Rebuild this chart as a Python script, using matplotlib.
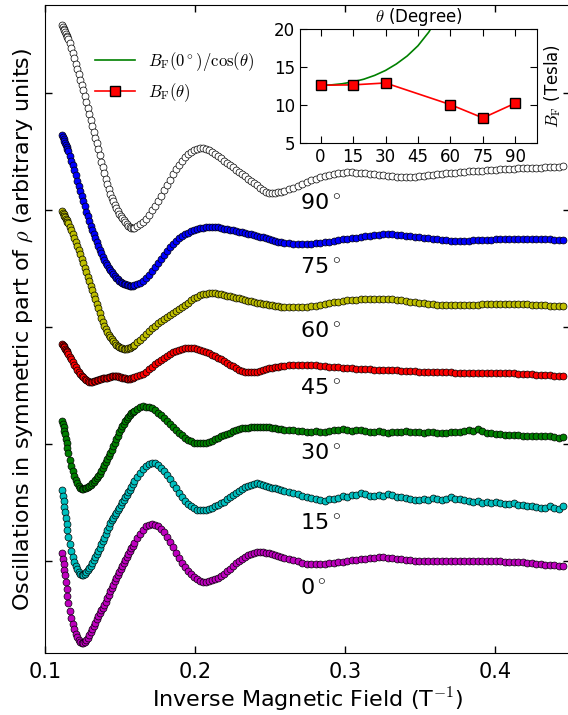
import numpy as np
import matplotlib
matplotlib.use('Agg')
import matplotlib.pyplot as plt

plt.rcParams['font.family'] = 'DejaVu Sans'
plt.rcParams['mathtext.fontset'] = 'cm'

# inverse field (1/T), shared by all traces
inv_field = np.array([
    0.1115, 0.112, 0.1125, 0.113, 0.1135, 0.114, 0.1145, 0.115, 0.1155, 0.1165,
    0.1175, 0.1185, 0.1195, 0.1205,
    0.1215, 0.1225, 0.1235, 0.1245, 0.1255, 0.1265, 0.1275, 0.1285, 0.1295, 0.1305,
    0.1315, 0.1325, 0.1335, 0.1345, 0.1355, 0.1365, 0.1375, 0.1385, 0.1395, 0.1405,
    0.1415, 0.1425, 0.1435, 0.1445, 0.1455, 0.1465, 0.1475, 0.1485, 0.1495, 0.1505,
    0.1515, 0.1525, 0.1535, 0.1545, 0.1555, 0.1565, 0.1575, 0.1585, 0.1595,
    0.1615, 0.1635, 0.1655, 0.1675, 0.1695, 0.1715, 0.1735, 0.1755, 0.1775, 0.1795,
    0.1815, 0.1835, 0.1855, 0.1875, 0.1895, 0.1915, 0.1935, 0.1955, 0.1975, 0.1995,
    0.2015, 0.2035, 0.2055, 0.2075, 0.2095, 0.2115, 0.2135, 0.2155, 0.2175, 0.2195,
    0.2215, 0.2235, 0.2255, 0.2275, 0.2295, 0.2315, 0.2335, 0.2355, 0.2375, 0.2395,
    0.2415, 0.2435, 0.2455, 0.2475, 0.2495, 0.2515, 0.2535, 0.2555, 0.2575, 0.2595,
    0.2625, 0.2655, 0.2685, 0.2715, 0.2745, 0.2775, 0.2805, 0.2835, 0.2865, 0.2895,
    0.2925, 0.2955, 0.2985, 0.3015, 0.3045, 0.3075, 0.3105, 0.3135, 0.3165, 0.3195,
    0.3225, 0.3255, 0.3285, 0.3315, 0.3345, 0.3375, 0.3405, 0.3435, 0.3465, 0.3495,
    0.3525, 0.3555, 0.3585, 0.3615, 0.3645, 0.3675, 0.3705, 0.3735, 0.3765, 0.3795,
    0.3825, 0.3855, 0.3885, 0.3915, 0.3945, 0.3975, 0.4005, 0.4035, 0.4065, 0.4095,
    0.4125, 0.4155, 0.4185, 0.4215, 0.4245, 0.4275, 0.4305, 0.4335, 0.4365, 0.4395,
    0.4425, 0.4455])

# symmetric part of rho, traces already stacked (arbitrary units)
osc_90 = np.array([
    536, 534, 532.5, 531, 529, 527, 525.5, 524, 522, 518, 513.5, 508,
    503, 497.5, 492, 487, 481.5, 476, 471, 465, 459, 453, 447, 441, 435, 429, 423.5,
    418, 412, 406, 399.5, 394, 388, 382.5, 377.5, 372.5, 367.5, 363.5, 360, 356.5, 353,
    350, 347, 345, 343, 341, 339, 337, 335, 334, 333, 333, 333.5,
    335, 337, 339.5, 342, 346.5, 351, 355.5, 360, 365.5, 371, 376, 381.5, 387, 392,
    396.5, 400.5, 404, 407, 409, 411, 412.5, 413, 413, 412, 411, 409.5, 407.5, 405, 403,
    400.5, 398, 396, 394, 391.5, 389, 387, 385, 382.5, 380, 378, 376, 373.5, 371.5,
    369.5, 368.5, 368, 368.5, 369, 369.5, 370.5,
    372, 373.5, 375, 377, 379, 381, 382.5, 384, 385.5, 386.5, 387.5, 388, 388.5, 389,
    389, 388.5, 388, 388, 387.5, 387, 386.5, 386, 385.5, 385, 384.5, 384.5, 384.5,
    384.5, 384.5, 385, 385.5, 386, 386.5, 387, 387.5, 388, 388, 388.5, 389, 389.5, 390,
    390, 390, 390.5, 391, 391.5, 391.5, 392, 392, 392.5, 392.5, 393, 393, 393, 393,
    393.5, 393.5, 394, 394, 394.5, 394.5, 395])
osc_75 = np.array([
    426.5, 424.5, 422.5, 420.5, 418.5, 416, 414, 412, 410, 405, 400.5, 396,
    391, 386, 380.5, 375, 370, 365, 360, 355, 349.5, 345, 340, 335.5, 331, 327, 323,
    319, 315, 311.5, 308, 304.5, 301.5, 298.5, 296, 293.5, 291, 289, 287, 285, 283.5,
    282, 280.5, 279.5, 278.5, 277.5, 277, 276.5, 276, 275.5, 275.5, 275.5, 276,
    277, 278.5, 280.5, 283, 286.5, 290, 294, 298, 302, 306, 310, 314, 317.5, 320.5, 323,
    325, 327, 328.5, 330, 331, 332, 333, 333.5, 334, 334.5, 334.5, 334.5, 334, 333.5,
    332.5, 332, 331.5, 331, 330, 329.5, 329, 328, 327.5, 327, 326, 325, 324.5, 324, 323,
    322, 321, 320, 319.5, 319, 318.5,
    318, 317.5, 317, 317, 317, 317.5, 318, 318.5, 319, 319.5, 320, 321, 322, 322.5, 323,
    323.5, 324, 325, 325.5, 326, 326.5, 327, 327, 327, 326.5, 326, 325.5, 325, 324.5,
    324, 323.5, 323, 322.5, 322, 321.5, 321, 320.5, 320.5, 320.5, 320.5, 320.5, 321,
    321, 321, 321, 321.5, 322, 322, 322, 322.5, 322.5, 322.5, 322.5, 322.5, 322.5, 322.5,
    322, 322, 322, 321.5, 321, 321])
osc_60 = np.array([
    350, 348.5, 347, 345.5, 344, 342.5, 341, 339.5, 338, 334.5, 331, 327,
    323, 319, 315, 311, 307, 302.5, 298, 293.5, 289, 284.5, 280, 275.5, 271, 266.5, 262,
    257.5, 253, 248, 243, 239, 235, 232, 229, 226.5, 224, 222, 220, 218, 216.5, 215.5,
    214.5, 213.5, 213, 212.5, 212.5, 212.5, 213, 213.5, 214.5, 215.5, 216.5,
    219, 221, 224, 227, 230, 233, 235.5, 238, 240.5, 242.5, 244.5, 246.5, 248, 250, 252,
    254, 256, 258.5, 261, 263, 264.5, 266, 267, 267.5, 268, 268.5, 268, 267.5, 267, 266,
    265.5, 265, 264.5, 263.5, 263, 262, 261, 260.5, 260, 259, 258.5, 258, 257.5, 257,
    256.5, 256, 255.5, 255, 254.5, 254.5,
    254.5, 254, 254, 254, 254.5, 255, 255.5, 256.5, 257, 258, 259, 259.5, 260, 261, 261,
    261.5, 262, 262, 262, 262.5, 262.5, 262.5, 262, 262, 261.5, 261, 260, 259.5, 259,
    258.5, 258, 257.5, 257, 256.5, 256, 256, 256, 256, 256, 256, 256, 256.5, 256.5, 257,
    257, 257.5, 257.5, 257.5, 257.5, 257.5, 257, 257, 257, 257, 256.5, 256.5, 256, 256,
    255.5, 255.5, 255, 255])
osc_45 = np.array([
    217.5, 216, 215, 214, 212.5, 211, 210, 209, 207.5, 204.5, 202, 199,
    196.5, 194, 191.5, 189.5, 187.5, 185.5, 184, 182.5, 181, 180, 179.5, 179.5, 179.5,
    180, 180.5, 181, 181.5, 182, 182.5, 183, 183, 183, 183.5, 184, 184.5, 185, 185, 185,
    185, 185, 184.5, 184, 183.5, 183, 183, 182.5, 182.5, 182.5, 183, 183.5, 184,
    185, 186, 187.5, 189.5, 192, 194.5, 197, 199, 201, 203, 205, 207, 209, 210.5, 211.5,
    212.5, 213, 213.5, 213.5, 213, 212, 211, 210, 209, 208, 206.5, 205, 203.5, 202, 200,
    198, 196.5, 195, 193, 191.5, 190, 189.5, 189, 189, 189, 189.5, 190.5, 191.5, 192.5,
    193, 193.5, 194, 194.5, 195, 195.5,
    196, 196, 196, 196, 196, 196, 196, 195.5, 195, 194.5, 194, 194, 193.5, 193, 193,
    192.5, 192, 192, 192, 191.5, 191.5, 191, 191, 191, 191, 190.5, 190, 190, 190, 189.5,
    189.5, 189.5, 189.5, 189, 189, 189, 189, 188.5, 188.5, 188.5, 188.5, 188, 188, 188,
    188, 188, 188, 188, 188, 188, 188, 187.5, 187.5, 187, 187, 186.5, 186.5, 186, 186,
    185.5, 185.5, 185])
osc_30 = np.array([
    140, 137, 134, 130.5, 127, 122.5, 118, 113, 108, 101, 95, 90,
    85, 81, 78, 75, 73, 72.5, 72.5, 73, 73.5, 74.5, 75.5, 76.5, 78, 79.5, 81.5, 83.5,
    85.5, 87.5, 90, 93, 96, 99, 102, 105, 108, 111.5, 115, 118.5, 122, 125.5, 129, 132,
    135, 137.5, 140, 142.5, 144.5, 146.5, 148, 149.5, 150.5,
    152.5, 154.5, 155, 154.5, 154, 153, 151, 148.5, 146, 143, 140, 137, 134, 131.5, 128.5,
    126, 123.5, 121.5, 120, 118.5, 118, 118, 118, 118.5, 119.5, 120.5, 122, 123.5, 125,
    126, 127.5, 128.5, 130, 131, 132, 133, 133.5, 133.5, 134, 134, 134, 134, 134, 134,
    134, 133.5, 133, 132.5, 132, 131.5,
    131, 131, 130.5, 130, 129, 129.5, 130, 129.5, 129, 130, 131, 131, 132, 131.5, 130.5,
    131.5, 131, 130.5, 129.5, 129.5, 130, 129.5, 128.5, 129.5, 129.5, 129.5, 130, 129.5,
    129, 129, 128.5, 129, 129.5, 128.5, 128, 128.5, 129.5, 129, 129.5, 130, 131, 130,
    132, 130, 128.5, 128, 127.5, 127, 126, 126.5, 126.5, 126, 125.5, 125.5, 125, 125, 125,
    125, 125.5, 124.5, 123.5, 124.5])
osc_15 = np.array([
    71, 65.5, 60, 54.5, 49, 43, 37, 31, 24.5, 17, 10, 4.5,
    -1, -5, -8, -11, -13, -14, -14, -12.5, -11, -9, -7, -4.5, -2, 1, 4, 7, 10, 13.5, 17,
    20, 23.5, 27, 31, 34.5, 38, 41, 43.5, 46, 48.5, 51, 53.5, 56, 59, 61.5, 64, 66.5, 69,
    71.5, 74.5, 77, 80,
    84.5, 88.5, 92.5, 95.5, 97.5, 98.5, 98, 96, 93.5, 90, 86, 82, 77.5, 73, 68.5, 64, 60,
    57, 55, 53, 51.5, 51, 51, 51.5, 52.5, 53.5, 55, 56.5, 58, 59.5, 62, 64, 66, 68.5,
    70.5, 72.5, 74, 75.5, 76.5, 77.5, 78, 77, 76.5, 75.5, 74.5, 73.5, 73, 72.5, 71.5,
    70.5,
    69.5, 68, 67, 65.5, 64, 63.5, 62, 61.5, 60, 62, 62.5, 63.5, 65, 64.5, 66.5, 66, 68,
    67, 65, 65.5, 66.5, 65, 67, 66.5, 64, 64.5, 63.5, 62.5, 61, 61, 62.5, 61.5, 63, 62,
    61, 62.5, 64, 62.5, 62, 61, 60.5, 59.5, 60.5, 58.5, 59, 58, 59.5, 58, 57, 57.5, 58,
    56, 56.5, 55, 55.5, 54, 53, 53.5, 55, 53.5, 52.5, 55])
osc_0 = np.array([
    8.5, 2.5, -3, -8.5, -14, -21, -28, -35, -42, -50, -57, -62.5,
    -68, -72.5, -76, -79, -81, -82, -82, -81, -79, -76.5, -74, -71, -68, -65, -61.5, -58,
    -55, -52, -49, -46.5, -44, -40.5, -37, -33.5, -30, -27, -23.5, -20, -17, -14, -11,
    -8, -5, -2, 1, 4, 7, 10, 13, 15.5, 18,
    23, 27.5, 31.5, 35, 36.5, 37.5, 36.5, 35, 32.5, 29, 24.5, 19, 14, 8.5, 3, -2, -6, -10,
    -13, -16, -18, -19.5, -20.5, -20.5, -20, -19, -18, -16.5, -14.5, -12.5, -10, -7.5,
    -4.5, -2, 0.5, 2.5, 4.5, 6, 7.5, 8.5, 9.5, 9.5, 9, 8.5, 8, 7, 6.5, 5.5, 4.5, 3.5,
    2, 1, 0, -1.5, -2.5, -3, -3, -3, -2.5, -2, -1.5, -1, -0.5, 0, 1, 1.5, 2, 2.5, 3, 3.5,
    4, 4, 3.5, 3, 2.5, 2, 1.5, 1, 0.5, 0.5, 0.5, 0.5, 0, 0, 0, 0, 0, 0, 0, 0, 0, 0, 0, 0,
    0, 0, 0, 0, -0.5, -0.5, -1, -1, -1, -1.5, -2, -2.5, -3, -3.5, -4, -4, -4.5, -5])

angle_names = ['0', '15', '30', '45', '60', '75', '90']
curves = [osc_0, osc_15, osc_30, osc_45, osc_60, osc_75, osc_90]
label_y = [-33, 32, 101.7, 167, 223.7, 287.7, 352.3]
colors = ['m', 'c', 'g', 'r', 'y', 'b', 'w']

# inset: Fermi field vs angle
theta = [0, 15, 30, 60, 75, 90]
bf = [12.6, 12.65, 12.9, 10.05, 8.3, 10.25]
theta_cos = [0, 5, 10, 15, 20, 25, 30, 35, 40, 45, 50, 55]
bf_cos = [12.6, 12.65, 12.8, 13.05, 13.4, 13.9, 14.55, 15.4, 16.45, 17.8, 19.6, 22.0]

fig = plt.figure(figsize=(5.68, 7.15), dpi=100)
ax = fig.add_axes([0.0792, 0.0867, 0.9243, 0.9063])

for vals, col in zip(curves, colors):
    ax.plot(inv_field, vals, 'o', ls='none', ms=5, mfc=col, mec='k', mew=0.5)

for name, yl in zip(angle_names, label_y):
    ax.text(0.27, yl, name + r'$^\circ$', fontsize=16, ha='left', va='baseline')

ax.set_xlim(0.1, 0.45)
ax.set_ylim(-92, 556)
ax.set_xticks([0.1, 0.2, 0.3, 0.4])
ax.set_xticklabels(['0.1', '0.2', '0.3', '0.4'])
ax.set_yticks([0, 117, 234, 351, 468])
ax.set_yticklabels([])
ax.tick_params(direction='in', top=True, right=True, length=5, width=1, labelsize=15)
ax.tick_params(axis='x', pad=6.5)
ax.set_xlabel(r'Inverse Magnetic Field (T$^{\mathsf{-1}}$)', fontsize=16, labelpad=3)
ax.set_ylabel(r'Oscillations in symmetric part of $\rho$ (arbitrary units)', fontsize=16)

axin = fig.add_axes([0.5282, 0.8, 0.4173, 0.1594])
l1, = axin.plot(theta_cos, bf_cos, color='g', lw=1.2)
l2, = axin.plot(theta, bf, '-s', color='r', mfc='r', mec='k', ms=7.5, lw=1.2)
axin.set_xlim(-9.5, 100)
axin.set_ylim(5, 20)
axin.set_xticks([0, 15, 30, 45, 60, 75, 90])
axin.set_yticks([5, 10, 15, 20])
axin.tick_params(direction='in', top=True, right=True, length=5, labelsize=12)
axin.xaxis.set_label_position('top')
axin.set_xlabel(r'$\theta$ (Degree)', fontsize=12, labelpad=5)
axin.yaxis.set_label_position('right')
axin.set_ylabel(r'$B_\mathrm{F}$ (Tesla)', fontsize=12)

ax.legend([l1, l2], [r'$B_\mathrm{F}(0^\circ)/\cos(\theta)$', r'$B_\mathrm{F}(\theta)$'],
          loc='upper left', bbox_to_anchor=(0.095, 0.931), frameon=False, fontsize=12,
          handlelength=2.4, borderpad=0, borderaxespad=0)

fig.savefig('out.png', dpi=100)
